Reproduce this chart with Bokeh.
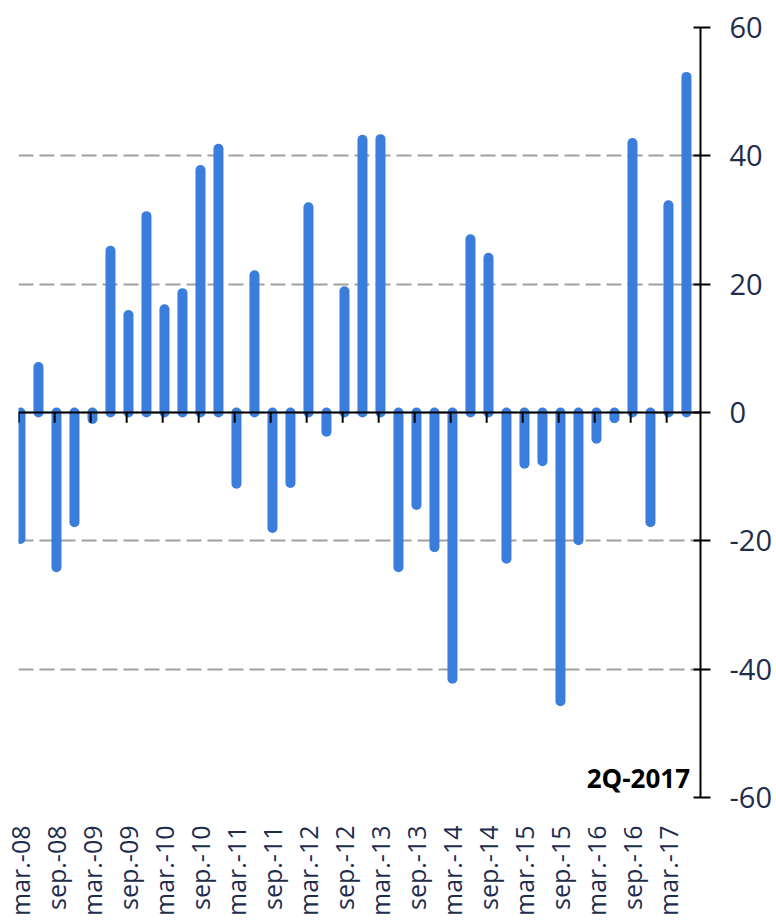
import math
from bokeh.plotting import figure
from bokeh.models import FixedTicker, Span, Label
from bokeh.embed import file_html
from bokeh.resources import INLINE

# quarterly values, mar-08 .. jun-17
quarters = ["mar.-08", "jun.-08", "sep.-08", "dec.-08",
            "mar.-09", "jun.-09", "sep.-09", "dec.-09",
            "mar.-10", "jun.-10", "sep.-10", "dec.-10",
            "mar.-11", "jun.-11", "sep.-11", "dec.-11",
            "mar.-12", "jun.-12", "sep.-12", "dec.-12",
            "mar.-13", "jun.-13", "sep.-13", "dec.-13",
            "mar.-14", "jun.-14", "sep.-14", "dec.-14",
            "mar.-15", "jun.-15", "sep.-15", "dec.-15",
            "mar.-16", "jun.-16", "sep.-16", "dec.-16",
            "mar.-17", "jun.-17"]
values = [-19.7, 7.1, -24.1, -17.1,
          -1.0, 25.2, 15.2, 30.6,
          16.1, 18.6, 37.8, 41.1,
          -11.1, 21.4, -18.0, -11.0,
          32.0, -3.0, 18.9, 42.5,
          42.6, -24.1, -14.4, -21.0,
          -41.5, 27.0, 24.1, -22.8,
          -8.0, -7.6, -45.0, -19.9,
          -4.1, -0.9, 42.0, -17.1,
          32.3, 52.3]
y_ticks = [-60, -40, -20, 0, 20, 40, 60]
y_tick_labels = ["-60", "-40", "-20", "0", "20", "40", "60"]
annotation = "2Q-2017"

idx = list(range(len(values)))
label_idx = [i for i in idx if i % 2 == 0]
label_map = {i: quarters[i] for i in label_idx}

BAR = "#3A7DDB"
TXT = "#1F2D4D"

p = figure(frame_width=682, frame_height=770,
           x_range=(-0.11, 37.78), y_range=(-60, 60),
           y_axis_location="right", output_backend="svg",
           toolbar_location=None, min_border_left=18, min_border_top=27,
           min_border_right=0, min_border_bottom=0)
p.outline_line_color = None
p.background_fill_color = "white"

# grid
p.xgrid.grid_line_color = None
p.ygrid.ticker = FixedTicker(ticks=y_ticks)
p.ygrid.grid_line_color = "#A0A0A0"
p.ygrid.grid_line_width = 2
p.ygrid.grid_line_dash = "15 6"

# right y axis
p.yaxis.ticker = FixedTicker(ticks=y_ticks)
p.yaxis.major_label_overrides = dict(zip(y_ticks, y_tick_labels))
p.yaxis.axis_line_color = "black"
p.yaxis.axis_line_width = 2
p.yaxis.major_tick_line_color = "black"
p.yaxis.major_tick_line_width = 2
p.yaxis.major_tick_in = 7
p.yaxis.major_tick_out = 10
p.yaxis.minor_tick_line_color = None
p.yaxis.major_label_text_font = "Open Sans"
p.yaxis.major_label_text_font_size = "29px"
p.yaxis.major_label_text_color = TXT
p.yaxis.major_label_standoff = 19

# bottom x axis: labels only
p.xaxis.ticker = FixedTicker(ticks=label_idx)
p.xaxis.major_label_overrides = label_map
p.xaxis.major_label_orientation = math.pi / 2
p.xaxis.axis_line_color = None
p.xaxis.major_tick_line_color = None
p.xaxis.minor_tick_line_color = None
p.xaxis.major_label_standoff = 22
p.xaxis.major_label_text_font = "Open Sans"
p.xaxis.major_label_text_font_size = "25px"
p.xaxis.major_label_text_color = TXT

# bars (rounded)
p.segment(x0=idx, y0=[0] * len(idx), x1=idx, y1=values,
          line_color=BAR, line_width=10, line_cap="round")

# zero line with ticks
p.add_layout(Span(location=0, dimension="width", line_color="black", line_width=2))
p.segment(x0=[i - 0.1 for i in label_idx], y0=[0] * len(label_idx),
          x1=[i - 0.1 for i in label_idx], y1=[-1.6] * len(label_idx),
          line_color="black", line_width=2)

p.add_layout(Label(x=37.2, y=-57.0, text=annotation, text_align="right",
                   text_baseline="alphabetic", text_font="Open Sans",
                   text_font_style="bold", text_font_size="26px",
                   text_color="black"))

open("out.html", "w").write(file_html(p, INLINE))
